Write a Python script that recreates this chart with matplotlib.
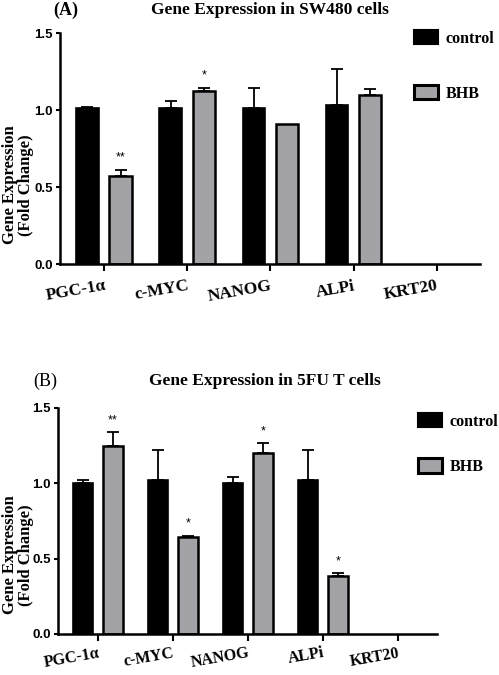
import matplotlib
matplotlib.use("Agg")
import matplotlib.pyplot as plt
import numpy as np
from matplotlib.patches import Patch

genes = ["PGC-1α", "c-MYC", "NANOG", "ALPi", "KRT20"]

# Panel A: SW480
a_control = [1.01, 1.015, 1.01, 1.03, 0.0]
a_control_err = [0.01, 0.045, 0.13, 0.235, 0.0]
a_bhb = [0.573, 1.125, 0.91, 1.10, 0.0]
a_bhb_err = [0.037, 0.02, 0.0, 0.036, 0.0]
a_stars = ["**", "*", "", "", ""]

# Panel B: 5FU T
b_control = [1.005, 1.02, 1.005, 1.02, 0.0]
b_control_err = [0.02, 0.20, 0.035, 0.20, 0.0]
b_bhb = [1.247, 0.645, 1.20, 0.385, 0.0]
b_bhb_err = [0.093, 0.007, 0.065, 0.02, 0.0]
b_stars = ["**", "*", "*", "*", ""]

serif = ["Liberation Serif", "DejaVu Serif"]
sans = ["Liberation Sans", "DejaVu Sans"]
GRAY = "#a3a3a7"

W, H = 499, 675
fig = plt.figure(figsize=(W / 100, H / 100), dpi=100)


def panel(rect, ctrl, ctrl_err, bhb, bhb_err, stars, letter, letter_x, letter_bold,
          title, title_x, title_y, leg_xy, leg_spacing, xpad, xfs, ylab_y):
    ax = fig.add_axes(rect)
    x = np.arange(len(genes))
    w = 0.27
    off = 0.2
    cx = [xi for xi, v in zip(x - off, ctrl) if v > 0]
    cv = [v for v in ctrl if v > 0]
    ce = [e for v, e in zip(ctrl, ctrl_err) if v > 0]
    bx = [xi for xi, v in zip(x + off, bhb) if v > 0]
    bv = [v for v in bhb if v > 0]
    be = [e for v, e in zip(bhb, bhb_err) if v > 0]
    ax.bar(cx, cv, w, color="black", edgecolor="black", linewidth=1.2, zorder=2)
    ax.bar(bx, bv, w, color=GRAY, edgecolor="black", linewidth=1.8, zorder=2)
    for xi, v, e in zip(cx, cv, ce):
        if e > 0:
            ax.errorbar(xi, v, yerr=[[0], [e]], fmt="none", ecolor="black",
                        elinewidth=1.3, capsize=4, capthick=1.3, zorder=3)
    for xi, v, e in zip(bx, bv, be):
        if e > 0:
            ax.errorbar(xi, v, yerr=[[0], [e]], fmt="none", ecolor="black",
                        elinewidth=1.3, capsize=4, capthick=1.3, zorder=3)
    for xi, v, e, s in zip(x + off, bhb, bhb_err, stars):
        if s:
            ax.text(xi, v + e + 0.04, s, ha="center", va="bottom", fontsize=9,
                    family=sans)
    ax.set_xlim(-0.53, 4.52)
    ax.set_ylim(0, 1.5)
    ax.set_yticks([0, 0.5, 1.0, 1.5])
    ax.set_yticklabels(["0.0", "0.5", "1.0", "1.5"], family=sans,
                       fontweight="bold", fontsize=9.5)
    ax.set_xticks(x)
    ax.set_xticklabels(genes, family=serif, fontweight="bold", fontsize=xfs,
                       rotation=10, rotation_mode="anchor", ha="right", va="top")
    ax.tick_params(axis="x", length=5, width=1.5, pad=xpad)
    ax.tick_params(axis="y", length=3, width=1.5, pad=2)
    for s in ["top", "right"]:
        ax.spines[s].set_visible(False)
    for s in ["left", "bottom"]:
        ax.spines[s].set_linewidth(1.8)
    fig.text(18 / W, ylab_y, "Gene Expression\n(Fold Change)", family=serif,
             fontweight="bold", fontsize=12, linespacing=1.05, rotation=90,
             ha="center", va="center", multialignment="center")
    fig.text(letter_x, title_y, letter, family=serif,
             fontweight="bold" if letter_bold else "normal", fontsize=13,
             ha="center", va="center")
    fig.text(title_x, title_y, title, family=serif, fontweight="bold", fontsize=12.5,
             ha="center", va="center")
    handles = [Patch(facecolor="black", edgecolor="black", linewidth=1.5, label="control"),
               Patch(facecolor=GRAY, edgecolor="black", linewidth=2.2, label="BHB")]
    ax.legend(handles=handles, loc="upper left", bbox_to_anchor=leg_xy,
              bbox_transform=fig.transFigure, frameon=False, handlelength=1.5,
              handleheight=1.0, handletextpad=0.5, labelspacing=leg_spacing,
              borderpad=0, borderaxespad=0,
              prop={"family": serif, "weight": "bold", "size": 11.5})
    return ax


panel([60 / W, 1 - 264 / H, 420 / W, 231 / H], a_control, a_control_err, a_bhb,
      a_bhb_err, a_stars, "(A)", 66 / W, True, "Gene Expression in SW480 cells",
      270 / W, 1 - 10 / H, (414 / W, 1 - 30 / H), 2.4, 5, 12.5, 1 - 185 / H)
panel([58 / W, 1 - 634 / H, 379 / W, 226 / H], b_control, b_control_err, b_bhb,
      b_bhb_err, b_stars, "(B)", 45 / W, False, "Gene Expression in 5FU T cells",
      265 / W, 1 - 381 / H, (418 / W, 1 - 413 / H), 1.8, 3, 11.5, 1 - 555 / H)

fig.savefig("out.png", dpi=100)
